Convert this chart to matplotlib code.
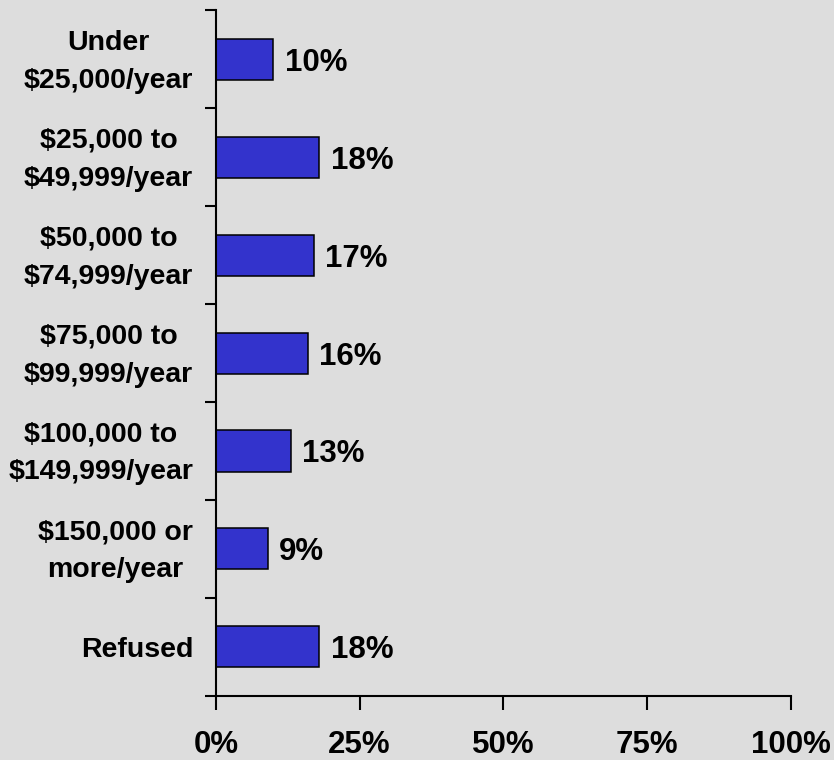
import matplotlib
matplotlib.use("Agg")
import matplotlib.pyplot as plt
import matplotlib.transforms as mtransforms
import numpy as np

categories = ["Under\n$25,000/year", "$25,000 to\n$49,999/year", "$50,000 to\n$74,999/year",
              "$75,000 to\n$99,999/year", "$100,000 to\n$149,999/year", "$150,000 or\nmore/year",
              "Refused"]
values = [10, 18, 17, 16, 13, 9, 18]
value_labels = ["10%", "18%", "17%", "16%", "13%", "9%", "18%"]
x_ticks = [0, 25, 50, 75, 100]
x_tick_labels = ["0%", "25%", "50%", "75%", "100%"]

plt.rcParams['font.family'] = ['Liberation Sans', 'DejaVu Sans']
bg = "#DDDDDD"
fig = plt.figure(figsize=(8.34, 7.6), dpi=100, facecolor=bg)
ax = fig.add_axes([0.259, 0.0846, 0.689, 0.9016])
ax.set_facecolor(bg)

y = np.arange(len(categories))
ax.barh(y, values, height=0.42, color="#3333CC", edgecolor="black", linewidth=1.1)
for yi, v, lab in zip(y, values, value_labels):
    ax.text(v + 2.0, yi, lab, va="center_baseline", ha="left", fontsize=22.5, fontweight="bold")

ax.set_xlim(0, 100)
ax.set_ylim(len(categories) - 0.5, -0.5)
ax.set_xticks(x_ticks)
ax.set_xticklabels(x_tick_labels, fontsize=22.5, fontweight="bold")
ax.tick_params(axis="x", direction="out", length=10, width=1.5, pad=15)

ax.set_yticks(np.arange(len(categories) + 1) - 0.5)
ax.set_yticklabels([])
ax.tick_params(axis="y", which="major", direction="out", length=8, width=1.5)

# category labels: last-line baseline positioned so the block is centred on the bar
blend = mtransforms.blended_transform_factory(ax.transAxes, ax.transData)
px = 72.0 / fig.dpi
for yi, cat in zip(y, categories):
    nlines = cat.count("\n") + 1
    dy_px = 10 if nlines == 1 else 28.5   # last baseline below bar centre, in pixels
    tr = mtransforms.offset_copy(blend, fig=fig, x=-23 * px, y=-dy_px * px, units="points")
    ax.text(0, yi, cat, transform=tr, ha="right", va="baseline", multialignment="center",
            fontsize=20.5, fontweight="bold", linespacing=1.6)

for s in ["top", "right"]:
    ax.spines[s].set_visible(False)
for s in ["left", "bottom"]:
    ax.spines[s].set_linewidth(1.5)

fig.savefig("out.png", dpi=100, facecolor=bg)
